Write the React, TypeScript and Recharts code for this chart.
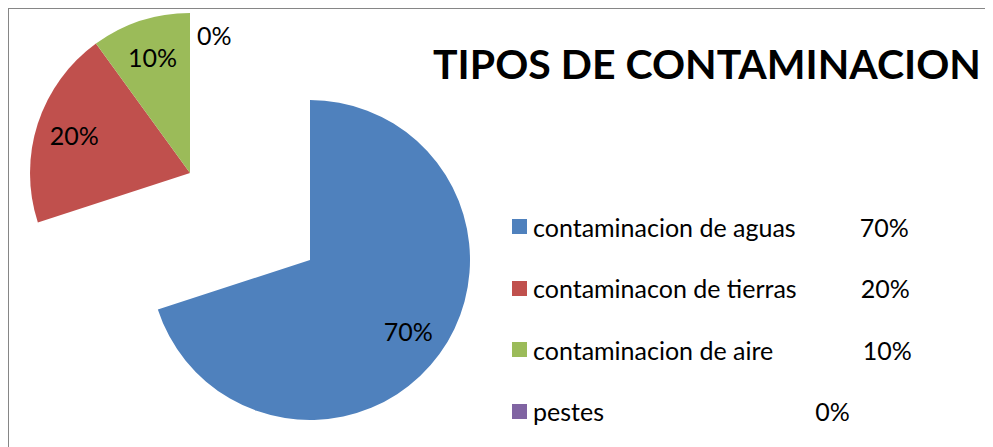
import { Cell, Pie, PieChart } from "recharts";

const categories = [
  "contaminacion de aguas",
  "contaminacon de tierras",
  "contaminacion de aire",
  "pestes",
];
const values = [70, 20, 10, 0];
// legend text as typed in the source sheet (values padded with spaces)
const legendLabels = [
  "contaminacion de aguas          70%",
  "contaminacon de tierras          20%",
  "contaminacion de aire              10%",
  "pestes                                 0%",
];
const colors = ["#4F81BD", "#C0504D", "#9BBB59", "#8064A2"];

const FONT = "Lato, 'Open Sans', sans-serif";
const RAD = Math.PI / 180;

const total = values.reduce((a, b) => a + b, 0);
const data = categories.map((name, i) => ({ name, value: values[i] }));
const mainEnd = 90 - (360 * values[0]) / total;

const renderLabel = (props: any) => {
  const { cx, cy, midAngle, outerRadius, value } = props;
  const zero = value === 0;
  const r = zero ? outerRadius * 0.86 : outerRadius * 0.76;
  const x = cx + r * Math.cos(-midAngle * RAD) + (zero ? 7 : 0);
  const y = cy + r * Math.sin(-midAngle * RAD);
  return (
    <text
      x={x}
      y={y}
      textAnchor={zero ? "start" : "middle"}
      dominantBaseline="central"
      fontFamily={FONT}
      fontSize={25}
      fill="#000"
    >
      {Math.round((value / total) * 100)}%
    </text>
  );
};

export default function App() {
  return (
    <div
      style={{
        position: "relative",
        width: 976,
        height: 447,
        border: "1px solid #868686",
        background: "#fff",
      }}
    >
      <PieChart width={976} height={447} margin={{ top: 0, right: 0, bottom: 0, left: 0 }}>
        <Pie
          data={data.slice(0, 1)}
          dataKey="value"
          nameKey="name"
          cx={301}
          cy={251}
          outerRadius={160}
          startAngle={90}
          endAngle={mainEnd}
          stroke="none"
          label={renderLabel}
          labelLine={false}
          isAnimationActive={false}
        >
          <Cell fill={colors[0]} />
        </Pie>
        <Pie
          data={data.slice(1)}
          dataKey="value"
          nameKey="name"
          cx={181}
          cy={164}
          outerRadius={160}
          startAngle={mainEnd}
          endAngle={-270}
          stroke="none"
          label={renderLabel}
          labelLine={false}
          isAnimationActive={false}
        >
          {data.slice(1).map((d, i) => (
            <Cell key={d.name} fill={colors[i + 1]} />
          ))}
        </Pie>
      </PieChart>
      <div
        style={{
          position: "absolute",
          left: 424,
          top: 31,
          width: 547,
          textAlign: "center",
          whiteSpace: "nowrap",
          fontFamily: FONT,
          fontWeight: 700,
          fontSize: 41,
          lineHeight: "48px",
        }}
      >
        TIPOS DE CONTAMINACION
      </div>
      <div
        style={{
          position: "absolute",
          left: 503,
          top: 187,
          fontFamily: FONT,
          fontSize: 25,
          color: "#000",
        }}
      >
        {categories.map((c, i) => (
          <div
            key={c}
            style={{ height: 61.5, display: "flex", alignItems: "center" }}
          >
            <span
              style={{
                width: 15,
                height: 15,
                background: colors[i],
                display: "inline-block",
                marginRight: 6,
              }}
            />
            <span style={{ whiteSpace: "pre" }}>{legendLabels[i]}</span>
          </div>
        ))}
      </div>
    </div>
  );
}
